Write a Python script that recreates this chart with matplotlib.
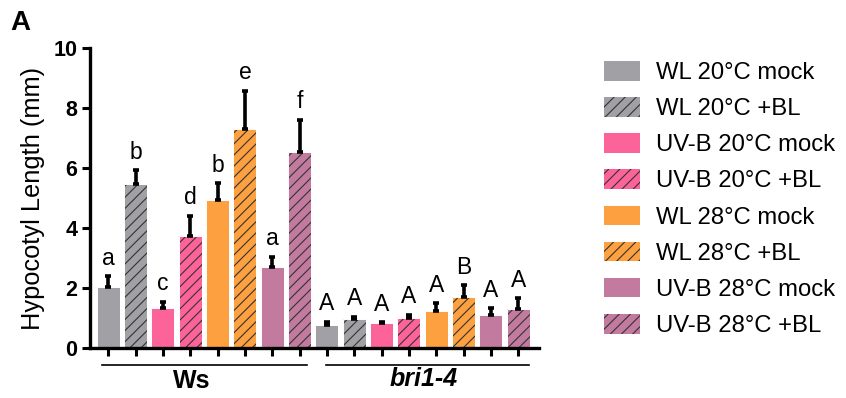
import matplotlib
matplotlib.use("Agg")
import matplotlib.pyplot as plt
import matplotlib.patches as mpatches
import matplotlib.transforms as mtransforms
import numpy as np

plt.rcParams['font.family'] = ['Liberation Sans', 'DejaVu Sans']
plt.rcParams['hatch.linewidth'] = 0.8

conditions = ["WL 20\u00b0C mock", "WL 20\u00b0C +BL", "UV-B 20\u00b0C mock", "UV-B 20\u00b0C +BL",
              "WL 28\u00b0C mock", "WL 28\u00b0C +BL", "UV-B 28\u00b0C mock", "UV-B 28\u00b0C +BL"]
genotypes = ["Ws", "bri1-4"]

ws_mean = [2.04, 5.46, 1.32, 3.73, 4.93, 7.29, 2.71, 6.53]
ws_err = [0.35, 0.47, 0.21, 0.67, 0.56, 1.29, 0.33, 1.08]
ws_letters = ["a", "b", "c", "d", "b", "e", "a", "f"]

bri_mean = [0.76, 0.95, 0.81, 0.98, 1.23, 1.70, 1.10, 1.30]
bri_err = [0.11, 0.09, 0.04, 0.12, 0.25, 0.39, 0.22, 0.35]
bri_letters = ["A", "A", "A", "A", "A", "B", "A", "A"]

colors = ["#A0A0A5", "#A0A0A5", "#FC6499", "#FC6499",
          "#FCA040", "#FCA040", "#C27B9F", "#C27B9F"]
hatches = ["", "///", "", "///", "", "///", "", "///"]
hatch_ink = "#333333"

fig = plt.figure(figsize=(8.46, 3.98), dpi=100)
ax = fig.add_axes([0.1064, 0.1265, 0.5310, 0.7521])

means = ws_mean + bri_mean
errs = ws_err + bri_err
letters = ws_letters + bri_letters
x = np.arange(len(means))

for i, (m, e) in enumerate(zip(means, errs)):
    c = colors[i % 8]
    ax.bar(x[i], m, width=0.84, color=c, edgecolor=hatch_ink, linewidth=0,
           hatch=hatches[i % 8], zorder=2)
    ax.bar(x[i], m, width=0.84, fill=False, edgecolor='white', linewidth=0.7, zorder=2.1)
    ax.errorbar(x[i], m, yerr=[[0], [e]], fmt='none', ecolor='black',
                elinewidth=2.6, capsize=2.5, capthick=2.6, zorder=3)
    ax.text(x[i], m + e + 0.22, letters[i], ha='center', va='bottom',
            fontsize=16.5, color='black')

ax.set_ylim(0, 10)
ax.set_xlim(-0.67, 15.77)
ax.set_yticks([0, 2, 4, 6, 8, 10])
ax.set_xticks(x)
ax.set_xticklabels([])
for lab in ax.get_yticklabels():
    lab.set_fontweight('bold')
ax.tick_params(axis='y', labelsize=15.5, width=2.2, length=6, direction='out', pad=3)
ax.tick_params(axis='x', width=2.2, length=6, direction='out')
ax.spines['top'].set_visible(False)
ax.spines['right'].set_visible(False)
ax.spines['left'].set_linewidth(2.4)
ax.spines['bottom'].set_linewidth(2.4)
ax.set_ylabel("Hypocotyl Length (mm)", fontsize=18.3, va='center')
ax.yaxis.set_label_coords(-0.127, 0.5)

# genotype brackets under the axis
trans = mtransforms.blended_transform_factory(ax.transData, fig.transFigure)
ax.plot([-0.23, 7.27], [1 - 365 / 398] * 2, color='black', lw=1.2,
        transform=trans, clip_on=False)
ax.plot([7.95, 15.4], [1 - 365 / 398] * 2, color='black', lw=1.2,
        transform=trans, clip_on=False)
ax.text(3.07, 1 - 381 / 398, genotypes[0], ha='center', va='center', fontsize=18,
        fontweight='bold', transform=trans)
ax.text(11.54, 1 - 379 / 398, genotypes[1], ha='center', va='center', fontsize=18,
        fontweight='bold', style='italic', transform=trans)

fig.text(0.012, 1 - 23 / 398, "A", fontsize=20, fontweight='bold', va='center', ha='left')

handles = [mpatches.Patch(facecolor=colors[i], edgecolor=hatch_ink, linewidth=0,
                          hatch=hatches[i], label=conditions[i]) for i in range(8)]
fig.legend(handles=handles, loc='upper left', bbox_to_anchor=(604 / 846, 1 - 61 / 398),
           frameon=False, fontsize=17.2, handlelength=1.52, handleheight=0.88,
           handletextpad=0.66, labelspacing=0.55, borderpad=0, borderaxespad=0)

fig.savefig("out.png", dpi=100)
